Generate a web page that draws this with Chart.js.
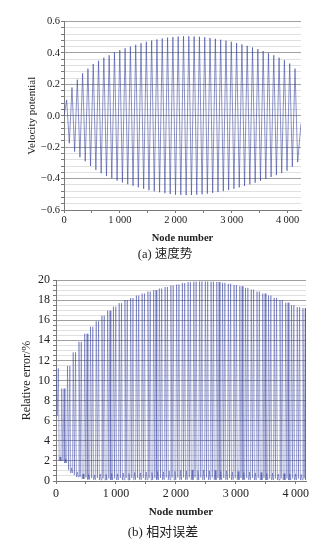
<!DOCTYPE html>
<html>
<head>
<meta charset="utf-8">
<script src="https://cdn.jsdelivr.net/npm/chart.js@4.4.1/dist/chart.umd.min.js"></script>
<style>
  html, body { margin: 0; padding: 0; background: #fff; }
  #wrap { position: relative; width: 330px; height: 548px; overflow: hidden; }
  canvas { position: absolute; left: 0; }
  #c1 { top: 0; }
  #c2 { top: 260px; }
  .cap { position: absolute; white-space: nowrap; transform: translate(-50%, -50%);
         font-family: "Liberation Serif", serif; color: #222; }
  .cap .zh { font-family: "Noto Sans CJK SC", sans-serif; }
</style>
</head>
<body>
<div id="wrap">
  <canvas id="c1" width="330" height="260"></canvas>
  <canvas id="c2" width="330" height="288"></canvas>
  <div class="cap" style="left:165px; top:252px; font-size:12.5px">(a) <span class="zh">速度势</span></div>
  <div class="cap" style="left:163px; top:530px; font-size:13px">(b) <span class="zh">相对误差</span></div>
</div>
<script>
// ---------- (a) velocity potential ----------
const peakNodes = [48,143,238,333,428,523,618,713,808,903,998,1093,1188,1283,1378,1473,1568,1663,1758,1853,1948,2043,2138,2233,2328,2423,2518,2613,2708,2803,2898,2993,3088,3183,3278,3373,3468,3563,3658,3753,3848,3943,4038,4133];
const peakValues = [0.10,0.18,0.23,0.27,0.30,0.33,0.35,0.37,0.385,0.404,0.418,0.43,0.44,0.452,0.462,0.471,0.479,0.486,0.492,0.497,0.501,0.504,0.506,0.506,0.505,0.503,0.50,0.495,0.49,0.484,0.478,0.471,0.463,0.454,0.445,0.435,0.424,0.412,0.399,0.385,0.37,0.353,0.332,0.30];
const troughNodes = [95,190,285,380,475,570,665,760,855,950,1045,1140,1235,1330,1425,1520,1615,1710,1805,1900,1995,2090,2185,2280,2375,2470,2565,2660,2755,2850,2945,3040,3135,3230,3325,3420,3515,3610,3705,3800,3895,3990,4085,4180];
const troughValues = [-0.175,-0.228,-0.264,-0.29,-0.32,-0.345,-0.366,-0.383,-0.398,-0.413,-0.425,-0.436,-0.446,-0.456,-0.465,-0.474,-0.481,-0.487,-0.493,-0.498,-0.502,-0.504,-0.505,-0.505,-0.503,-0.50,-0.496,-0.491,-0.486,-0.48,-0.473,-0.465,-0.456,-0.447,-0.437,-0.426,-0.414,-0.402,-0.39,-0.378,-0.365,-0.35,-0.325,-0.295];
const potEdgeNodes = [0, 4240];
const potEdgeValues = [0.0, -0.05];

const potTickValues = [-0.6,-0.4,-0.2,0.0,0.2,0.4,0.6];
const potTickLabels = ['\u22120.6','\u22120.4','\u22120.2','0.0','0.2','0.4','0.6'];

// ---------- (b) relative error ----------
const spikeNodesA = [0,96,192,287,383,479,575,671,766,862,958,1054,1150,1245,1341,1437,1533,1629,1724,1820,1916,2012,2108,2203,2299,2395,2491,2587,2682,2778,2874,2970,3066,3161,3257,3353,3449,3545,3640,3736,3832,3928,4024,4119];
const spikeNodesB = [39,135,231,326,422,518,614,710,805,901,997,1093,1189,1284,1380,1476,1572,1668,1763,1859,1955,2051,2147,2242,2338,2434,2530,2626,2721,2817,2913,3009,3105,3200,3296,3392,3488,3584,3679,3775,3871,3967,4063,4158];
const spikeHeights = [11.2,9.2,11.45,12.8,13.85,14.65,15.35,15.9,16.45,16.95,17.35,17.7,18.0,18.2,18.45,18.65,18.85,19.0,19.15,19.3,19.45,19.55,19.7,19.78,19.83,19.85,19.85,19.83,19.8,19.72,19.62,19.5,19.38,19.22,19.05,18.85,18.65,18.45,18.22,18.0,17.75,17.5,17.3,17.2];
const pairLow = [6.5,2.0,1.1,0.6,0.4,0.35,0.3,0.3,0.25,0.25,0.25,0.3,0.3,0.3,0.3,0.3,0.3,0.3,0.3,0.35,0.35,0.35,0.35,0.35,0.35,0.35,0.35,0.35,0.3,0.3,0.3,0.3,0.3,0.3,0.3,0.3,0.3,0.25,0.25,0.25,0.25,0.25,0.25,0.25];
const gapLow = [2.0,1.8,0.8,0.4,0.2,0.15,0.12,0.1,0.1,0.1,0.1,0.1,0.1,0.12,0.12,0.12,0.12,0.12,0.12,0.12,0.12,0.12,0.12,0.12,0.12,0.12,0.12,0.12,0.12,0.12,0.12,0.12,0.12,0.12,0.1,0.1,0.1,0.1,0.1,0.1,0.1,0.1,0.1,0.1];
const gapBump = [2.4,2.2,1.3,0.9,0.7,0.65,0.6,0.7,0.65,0.75,0.7,0.8,0.75,0.85,0.8,0.9,0.85,0.95,0.9,1.0,0.95,1.05,1.0,1.1,1.0,1.1,1.0,1.05,0.95,1.0,0.9,0.95,0.85,0.9,0.8,0.85,0.75,0.8,0.7,0.75,0.7,0.7,0.65,0.7];

const errTickValues = [0,2,4,6,8,10,12,14,16,18,20];
const errTickLabels = ['0','2','4','6','8','10','12','14','16','18','20'];

// shared node-number axis
const nodeTickValues = [0,500,1000,1500,2000,2500,3000,3500,4000];
const nodeLabelValues = [0,1000,2000,3000,4000];
const nodeLabelTexts = ['0','1\u2009000','2\u2009000','3\u2009000','4\u2009000'];

// ---------- build point tables ----------
const potPoints = [{ x: potEdgeNodes[0], y: potEdgeValues[0] }];
for (let i = 0; i < peakNodes.length; i++) {
  potPoints.push({ x: peakNodes[i], y: peakValues[i] });
  potPoints.push({ x: troughNodes[i], y: troughValues[i] });
}
potPoints.push({ x: potEdgeNodes[1], y: potEdgeValues[1] });

const ERR_MAX_NODE = 4170;
const errPoints = [];
for (let k = 0; k < spikeNodesA.length; k++) {
  const a = spikeNodesA[k], b = spikeNodesB[k], h = spikeHeights[k];
  errPoints.push({ x: a, y: h });
  errPoints.push({ x: (a + b) / 2, y: pairLow[k] });
  errPoints.push({ x: b, y: h });
  const next = k + 1 < spikeNodesA.length ? spikeNodesA[k + 1] : ERR_MAX_NODE;
  const g = next - b;
  errPoints.push({ x: b + g * 0.25, y: gapLow[k] });
  errPoints.push({ x: b + g * 0.5, y: gapBump[k] });
  errPoints.push({ x: b + g * 0.75, y: gapLow[k] });
}

// ---------- helpers ----------
const near = (a, b) => Math.abs(a - b) < 1e-9;
function labelFrom(values, texts) {
  return v => { const i = values.findIndex(t => near(t, v)); return i >= 0 ? texts[i] : ''; };
}
function withMinors(majors, parts) {
  const out = [];
  for (let i = 0; i < majors.length - 1; i++) {
    const step = (majors[i + 1] - majors[i]) / parts;
    for (let j = 0; j < parts; j++) out.push({ value: +(majors[i] + j * step).toFixed(6) });
  }
  out.push({ value: majors[majors.length - 1] });
  return out;
}

const SERIF = 'Liberation Serif';
const INK = '#222';
const AXIS = '#7a7a7a';
const GRID_MAJOR = '#a0a0a0';
const GRID_MINOR = '#e0e0e0';
const LINE_A = 'rgba(52,64,155,0.72)';
const LINE_B = 'rgba(52,64,160,0.55)';

function nodeAxis(maxNode, h, fontSize, titleSize, labelPad, titlePad) {
  return {
    type: 'linear', min: 0, max: maxNode,
    afterBuildTicks: s => { s.ticks = nodeTickValues.map(v => ({ value: v })); },
    afterFit: s => { s.height = h; },
    grid: { drawOnChartArea: false, drawTicks: true, tickLength: 3, tickColor: AXIS },
    border: { display: true, color: AXIS, width: 1 },
    ticks: { autoSkip: false, maxRotation: 0, minRotation: 0, padding: labelPad, color: INK,
             font: { family: SERIF, size: fontSize },
             callback: labelFrom(nodeLabelValues, nodeLabelTexts) },
    title: { display: true, text: 'Node number', color: INK,
             font: { family: SERIF, size: titleSize, weight: 'bold' },
             padding: { top: 0, bottom: titlePad } }
  };
}

function valueAxis(majors, texts, parts, w, fontSize, title, titleSize, labelPad, titlePad) {
  const isMajor = v => majors.some(t => near(t, v));
  return {
    type: 'linear', min: majors[0], max: majors[majors.length - 1],
    afterBuildTicks: s => { s.ticks = withMinors(majors, parts); },
    afterFit: s => { s.width = w; },
    grid: { drawOnChartArea: true, drawTicks: true, tickLength: 3,
            color: c => isMajor(c.tick.value) ? GRID_MAJOR : GRID_MINOR,
            tickColor: AXIS, lineWidth: 1 },
    border: { display: true, color: AXIS, width: 1 },
    ticks: { autoSkip: false, padding: labelPad, color: INK,
             font: { family: SERIF, size: fontSize },
             callback: labelFrom(majors, texts) },
    title: { display: true, text: title, color: INK,
             font: { family: SERIF, size: titleSize },
             padding: { top: titlePad, bottom: 0 } }
  };
}

const common = {
  responsive: false, animation: false, devicePixelRatio: 1,
  plugins: { legend: { display: false }, tooltip: { enabled: false } },
  elements: { point: { radius: 0 }, line: { tension: 0 } }
};

new Chart(document.getElementById('c1'), {
  type: 'line',
  data: { datasets: [{ data: potPoints, borderColor: LINE_A, borderWidth: 0.8, fill: false }] },
  options: Object.assign({}, common, {
    layout: { padding: { left: 0, right: 29, top: 21.5, bottom: 14 } },
    scales: {
      x: nodeAxis(4240, 36, 10.5, 10.5, 0.7, 1.7),
      y: valueAxis(potTickValues, potTickLabels, 5, 64, 10.5, 'Velocity potential', 11, 1, 25.4)
    }
  })
});

new Chart(document.getElementById('c2'), {
  type: 'line',
  data: { datasets: [{ data: errPoints, borderColor: LINE_B, borderWidth: 0.8, fill: false }] },
  options: Object.assign({}, common, {
    layout: { padding: { left: 0, right: 24, top: 20, bottom: 27 } },
    scales: {
      x: nodeAxis(ERR_MAX_NODE, 40, 12, 11, 2.8, 2.1),
      y: valueAxis(errTickValues, errTickLabels, 4, 56, 12, 'Relative error/%', 12, 3, 19.8)
    }
  })
});
</script>
</body>
</html>
